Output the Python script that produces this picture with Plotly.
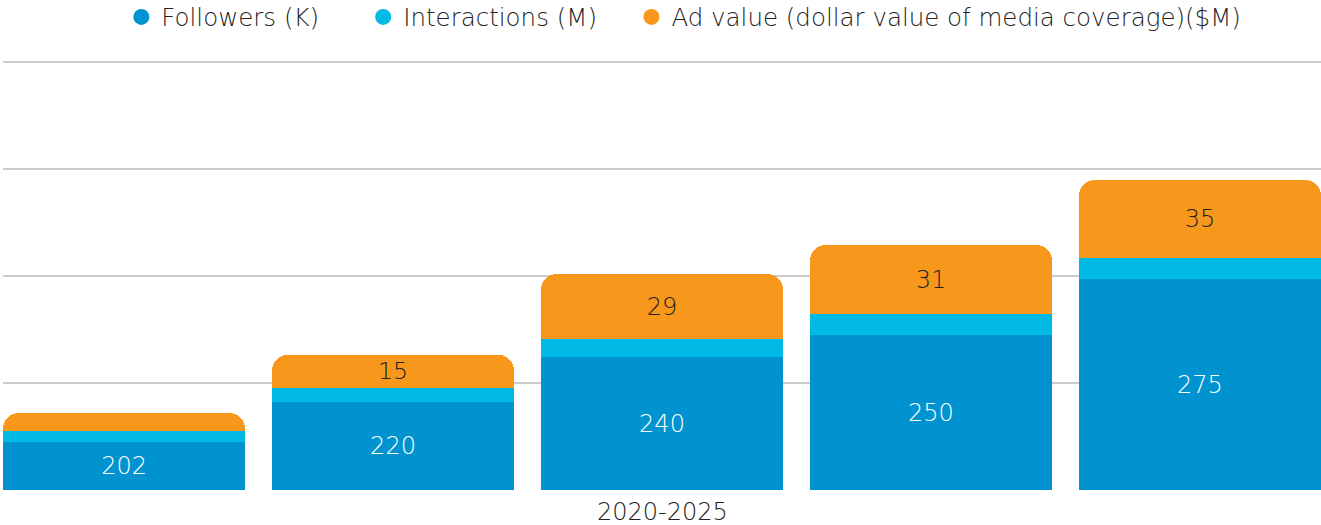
import plotly.graph_objects as go

years = ["2020", "2021", "2022", "2023", "2024"]
followers = [202, 220, 240, 250, 275]
interactions = [5, 6, 8, 9, 9]
ad_value = [8, 15, 29, 31, 35]
series_names = ["Followers (K)", "Interactions (M)", "Ad value (dollar value of media coverage)($M)"]
x_title = "2020-2025"

colors = ["#0093D0", "#00B9E4", "#F7971B"]
AXIS_MIN = 180.6
AXIS_MAX = 371.67
AXIS_PAD = 0.9
FONT = "DejaVu Sans"
FW = 200
TXT = "#222222"
legend_x = [0.0898, 0.2733, 0.4768]
legend_ids = ["legend", "legend2", "legend3"]

fig = go.Figure()
fig.add_trace(go.Bar(x=years, y=followers, name=series_names[0],
                     marker=dict(color=colors[0], line=dict(width=0)), showlegend=False))
fig.add_trace(go.Bar(x=years, y=interactions, name=series_names[1],
                     marker=dict(color=colors[1], line=dict(width=0)), showlegend=False))
fig.add_trace(go.Bar(x=years, y=ad_value, name=series_names[2],
                     marker=dict(color=colors[2], line=dict(width=0)),
                     text=[str(v) if v >= 10 else "" for v in ad_value], textposition="inside",
                     insidetextanchor="middle", textangle=0, constraintext="none",
                     textfont=dict(color=TXT, size=24, family=FONT, weight=FW),
                     showlegend=False))

# followers labels centred in the visible part of each bar
fig.add_trace(go.Scatter(x=years, y=[(AXIS_MIN + f) / 2 - 1 for f in followers],
                         text=[str(f) for f in followers], mode="text",
                         textfont=dict(size=24, color="white", family=FONT, weight=FW),
                         showlegend=False, hoverinfo="skip"))

for n, c, lid in zip(series_names, colors, legend_ids):
    fig.add_trace(go.Scatter(x=[None], y=[None], mode="markers", name=n, legend=lid,
                             marker=dict(symbol="circle", size=22, color=c)))

fig.add_annotation(text=x_title, xref="paper", yref="paper", x=0.5, y=0, yshift=-22,
                   yanchor="middle", showarrow=False,
                   font=dict(size=24, color=TXT, family=FONT, weight=FW))

leg_common = dict(orientation="h", xanchor="left", y=1.1, yanchor="middle",
                  font=dict(size=24.5, color=TXT, family=FONT, weight=FW),
                  itemsizing="trace", bgcolor="rgba(0,0,0,0)")

fig.update_layout(
    width=1321, height=525,
    barmode="stack", bargap=0.1, barcornerradius=16,
    plot_bgcolor="white", paper_bgcolor="white",
    margin=dict(l=3, r=0, t=60, b=35, autoexpand=False),
    font=dict(family=FONT, size=24, color=TXT, weight=FW),
    legend=dict(x=legend_x[0], **leg_common),
    legend2=dict(x=legend_x[1], **leg_common),
    legend3=dict(x=legend_x[2], **leg_common),
    xaxis=dict(type="category", range=[-0.45, 4.45], showticklabels=False, showgrid=False,
               zeroline=False),
    yaxis=dict(range=[AXIS_MIN, AXIS_MAX + AXIS_PAD], tick0=AXIS_MIN,
               dtick=(AXIS_MAX - AXIS_MIN) / 4,
               showticklabels=False, gridcolor="#CCCCCC", gridwidth=1.5, zeroline=False),
)
fig.write_html("out.html", post_script="document.body.style.margin='0';",
               config={"displayModeBar": False})
